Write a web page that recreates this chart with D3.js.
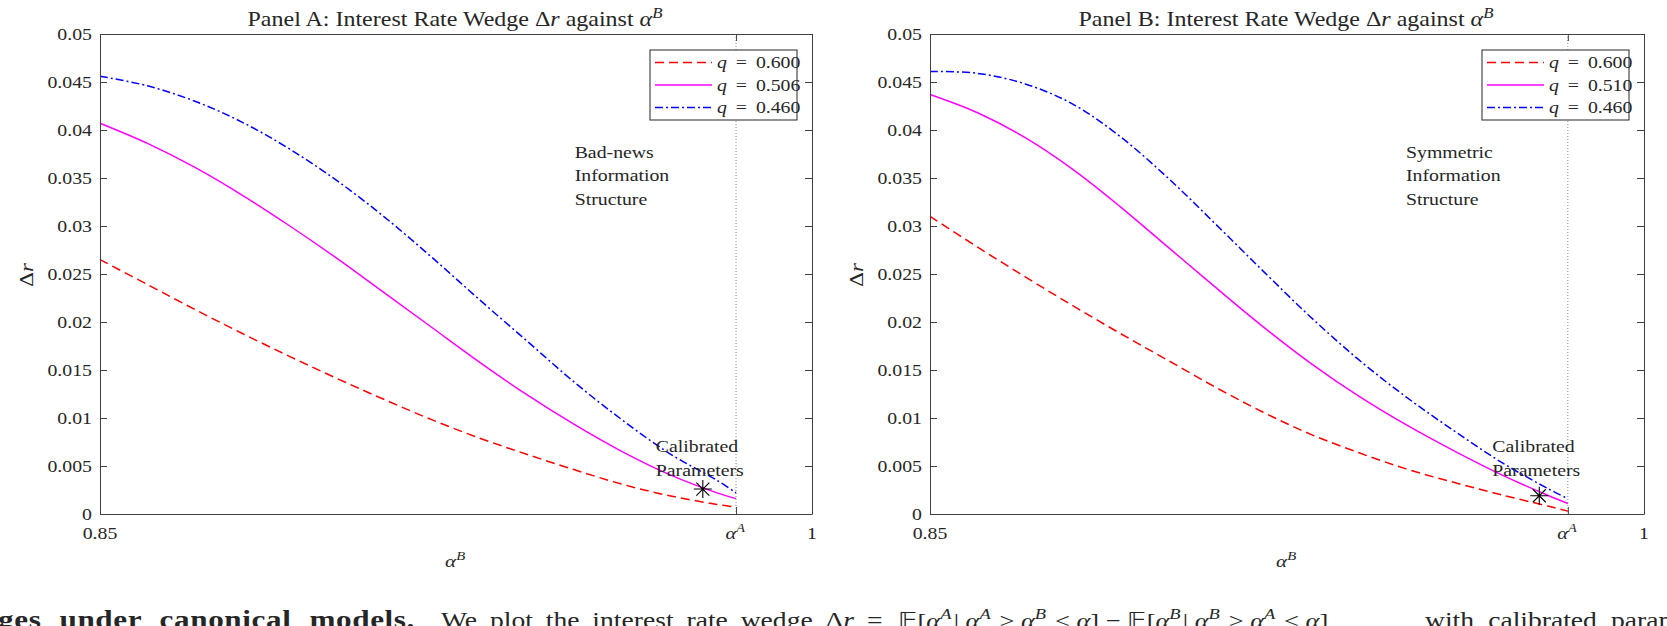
<!DOCTYPE html>
<html>
<head>
<meta charset="utf-8">
<script src="https://cdn.jsdelivr.net/npm/d3@7"></script>
<style>
  body { margin: 0; background: #fff; }
  svg { display: block; }
  text { font-family: "Liberation Serif", "Times New Roman", serif; fill: #262626; }
</style>
</head>
<body>
<div class="container"></div>
<script>
// data
var alphaGrid = [0.85, 0.86, 0.87, 0.88, 0.89, 0.90, 0.91, 0.92, 0.93, 0.94, 0.95, 0.96, 0.97, 0.98, 0.984];
var alphaA = 0.984;

var redA     = [0.0265, 0.0239, 0.0213, 0.0188, 0.0164, 0.0141, 0.0119, 0.0098, 0.0079, 0.0062, 0.0046, 0.0031, 0.0019, 0.0010, 0.0007];
var magentaA = [0.0407, 0.0386, 0.0361, 0.0332, 0.0300, 0.0266, 0.0230, 0.0194, 0.0158, 0.0124, 0.0093, 0.0065, 0.0041, 0.0022, 0.0016];
var blueA    = [0.0456, 0.0446, 0.0430, 0.0408, 0.0380, 0.0347, 0.0309, 0.0267, 0.0223, 0.0180, 0.0137, 0.0098, 0.0063, 0.0035, 0.0022];

var redB     = [0.0310, 0.0278, 0.0247, 0.0217, 0.0188, 0.0160, 0.0132, 0.0106, 0.0083, 0.0064, 0.0047, 0.0033, 0.0020, 0.0008, 0.0003];
var magentaB = [0.0437, 0.0418, 0.0392, 0.0359, 0.0320, 0.0278, 0.0236, 0.0195, 0.0157, 0.0123, 0.0093, 0.0066, 0.0041, 0.0019, 0.0011];
var blueB    = [0.0461, 0.0459, 0.0448, 0.0427, 0.0393, 0.0350, 0.0302, 0.0253, 0.0205, 0.0161, 0.0122, 0.0087, 0.0054, 0.0026, 0.0016];

var legendA = ["0.600", "0.506", "0.460"];
var legendB = ["0.600", "0.510", "0.460"];
var calibA = [0.977, 0.0026];
var calibB = [0.978, 0.0019];
var yTicks = [0, 0.005, 0.01, 0.015, 0.02, 0.025, 0.03, 0.035, 0.04, 0.045, 0.05];
var noteA = ["Bad-news", "Information", "Structure"];
var noteB = ["Symmetric", "Information", "Structure"];

var W = 1667, H = 626;
var STRETCH = 1.2;   // the picture is a bit wider than tall, text too

var colors = ["#ff0000", "#ff00ff", "#0000ff"];
var dashes = ["9,5", null, "8,3,2,3"];

var svg = d3.select(".container").append("svg")
    .attr("width", W).attr("height", H);

// writes text made of parts [{t, sup, it}] with a horizontal stretch
function label(g, x, y, parts, size, anchor, extra) {
    var t = g.append("text")
        .attr("transform", "translate(" + x + "," + y + ") " + (extra || "") + " scale(" + STRETCH + ",1)")
        .attr("font-size", size)
        .attr("text-anchor", anchor || "start");
    parts.forEach(function(p) {
        if (typeof p === "string") p = {t: p};
        var s = t.append("tspan").text(p.t);
        if (p.it) s.attr("font-style", "italic");
        if (p.b) s.attr("font-weight", "bold");
        if (p.sup) {
            s.attr("font-size", size * 0.7).attr("dy", -size * 0.42);
            t.append("tspan").attr("dy", size * 0.42).text("\u200a");
        }
    });
    return t;
}

function drawPanel(left, right, name, series, legendVals, calib, note) {
    var top = 34, bottom = 514;
    var x = d3.scaleLinear().domain([0.85, 1]).range([left, right]);
    var y = d3.scaleLinear().domain([0, 0.05]).range([bottom, top]);
    var g = svg.append("g");

    // dotted alpha^A line
    g.append("line")
        .attr("x1", x(alphaA)).attr("x2", x(alphaA))
        .attr("y1", top).attr("y2", bottom)
        .attr("stroke", "#8a8a8a").attr("stroke-width", 1)
        .attr("stroke-dasharray", "1,2");

    var line = d3.line()
        .x(function(d) { return x(d[0]); })
        .y(function(d) { return y(d[1]); })
        .curve(d3.curveCatmullRom.alpha(0.5));

    series.forEach(function(s, i) {
        g.append("path")
            .datum(alphaGrid.map(function(a, j) { return [a, s[j]]; }))
            .attr("d", line)
            .attr("fill", "none")
            .attr("stroke", colors[i])
            .attr("stroke-width", 1.5)
            .attr("stroke-dasharray", dashes[i]);
    });

    // axes box and ticks
    var yl = d3.axisLeft(y).tickValues(yTicks).tickSize(-7).tickFormat("");
    var yr = d3.axisRight(y).tickValues(yTicks).tickSize(-7).tickFormat("");
    var xb = d3.axisBottom(x).tickValues([0.85, alphaA, 1]).tickSize(-7).tickFormat("");
    var xt = d3.axisTop(x).tickValues([0.85, alphaA, 1]).tickSize(-7).tickFormat("");
    [[yl, "translate(" + left + ",0)"], [yr, "translate(" + right + ",0)"],
     [xb, "translate(0," + bottom + ")"], [xt, "translate(0," + top + ")"]].forEach(function(a) {
        var ax = g.append("g").attr("transform", a[1]).call(a[0].tickSizeOuter(0));
        ax.selectAll("path, line").attr("stroke", "#404040").attr("stroke-width", 1);
    });

    // tick labels
    yTicks.forEach(function(v) {
        var s = v === 0 ? "0" : String(+v.toFixed(3));
        label(g, left - 8, y(v) + 5.5, [s], 16.5, "end");
    });
    label(g, x(0.85), bottom + 25, ["0.85"], 16.5, "middle");
    label(g, x(1), bottom + 25, ["1"], 16.5, "middle");
    label(g, x(alphaA), bottom + 25, [{t: "\u03b1", it: true}, {t: "A", it: true, sup: true}], 17, "middle");

    // axis titles
    label(g, (left + right) / 2, 567, [{t: "\u03b1", it: true}, {t: "B", it: true, sup: true}], 17.5, "middle");
    label(g, left - 67, 275, ["\u0394", {t: "r", it: true}], 19, "middle", "rotate(-90)");
    label(g, (left + right) / 2, 26,
        ["Panel " + name + ": Interest Rate Wedge \u0394", {t: "r", it: true}, " against ",
         {t: "\u03b1", it: true}, {t: "B", it: true, sup: true}], 20, "middle");

    // notes
    note.forEach(function(s, i) {
        label(g, x(0.95), 157.5 + i * 23.5, [s], 16.5, "start");
    });
    label(g, x(calib[0]) - 47, 452, ["Calibrated"], 16.5, "start");
    label(g, x(calib[0]) - 47, 476, ["Parameters"], 16.5, "start");

    // calibrated point (asterisk)
    var cx = x(calib[0]), cy = y(calib[1]), r = 9, d = 6.5;
    g.append("path")
        .attr("d", "M" + (cx - r) + "," + cy + "H" + (cx + r) +
                   "M" + cx + "," + (cy - r) + "V" + (cy + r) +
                   "M" + (cx - d) + "," + (cy - d) + "L" + (cx + d) + "," + (cy + d) +
                   "M" + (cx - d) + "," + (cy + d) + "L" + (cx + d) + "," + (cy - d))
        .attr("stroke", "#000").attr("stroke-width", 1.1).attr("fill", "none");

    // legend
    var lx = right - 15 - 147, ly = 50;
    g.append("rect").attr("x", lx).attr("y", ly).attr("width", 147).attr("height", 70)
        .attr("fill", "#fff").attr("stroke", "#262626").attr("stroke-width", 1);
    legendVals.forEach(function(v, i) {
        var yy = ly + 12.5 + i * 22.5;
        g.append("line").attr("x1", lx + 5).attr("x2", lx + 62).attr("y1", yy).attr("y2", yy)
            .attr("stroke", colors[i]).attr("stroke-width", 1.5).attr("stroke-dasharray", dashes[i]);
        label(g, lx + 67, yy + 5.5, [{t: "q", it: true}, "\u2009 = \u2009" + v], 16.5, "start");
    });
}

drawPanel(100, 812, "A", [redA, magentaA, blueA], legendA, calibA, noteA);
drawPanel(930, 1644, "B", [redB, magentaB, blueB], legendB, calibB, noteB);

// caption cut off at the bottom of the picture
var cap = svg.append("g");
label(cap, 415, 628, [{t: "wedges under canonical models.", b: true}], 26, "end")
    .attr("word-spacing", 8).attr("letter-spacing", 0.5);
label(cap, 441, 628, ["We plot the interest rate wedge \u0394", {t: "r", it: true}, " ="], 23, "start")
    .attr("word-spacing", 5);
label(cap, 898, 628, ["\ud835\udd3c[",
    {t: "\u03b1", it: true}, {t: "A", it: true, sup: true}, "| ",
    {t: "\u03b1", it: true}, {t: "A", it: true, sup: true}, " > ",
    {t: "\u03b1", it: true}, {t: "B", it: true, sup: true}, " < ",
    {t: "\u03b1", it: true}, "] \u2212 \ud835\udd3c[",
    {t: "\u03b1", it: true}, {t: "B", it: true, sup: true}, "| ",
    {t: "\u03b1", it: true}, {t: "B", it: true, sup: true}, " > ",
    {t: "\u03b1", it: true}, {t: "A", it: true, sup: true}, " < ",
    {t: "\u03b1", it: true}, "]"], 22, "start");
label(cap, 1425, 628, ["with calibrated parameters"], 23, "start").attr("word-spacing", 6);
</script>
</body>
</html>
